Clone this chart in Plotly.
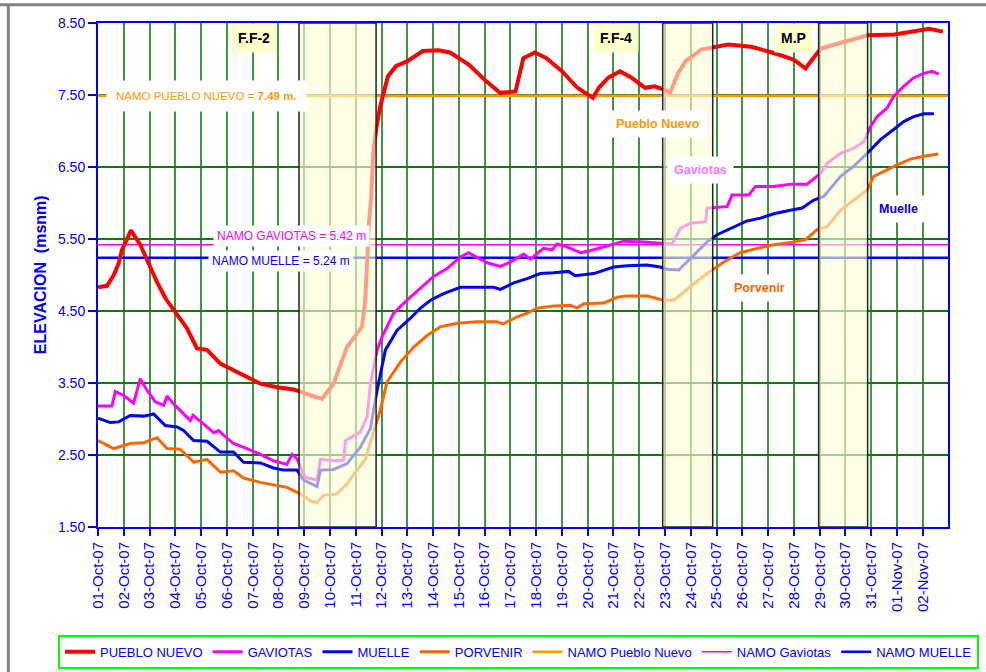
import pandas as pd
import plotly.graph_objects as go

BASE = pd.Timestamp("2007-10-01")

# ---- data (x = days elapsed since 01-Oct-07) ----
pn_d = [0, 0.35, 0.61, 0.80, 0.93, 1.28, 1.64, 1.96, 2.29, 2.61, 3.07, 3.45, 3.84, 4.23, 4.75,
        5.26, 5.78, 6.30, 6.95, 7.59, 8.24, 8.69, 9.14, 9.66, 10.24, 10.37, 10.44, 10.50, 10.59,
        10.69, 10.83, 10.95, 11.25, 11.56, 12.0, 12.6, 13.2, 13.66, 14.4, 15.0, 15.6, 16.2, 16.5,
        16.95, 17.4, 18.0, 18.6, 19.2, 19.43, 19.8, 20.26, 20.7, 21.23, 21.6, 21.98, 22.2, 22.5,
        22.8, 23.4, 24.0, 24.45, 25.35, 26.25, 27.0, 27.45, 27.9, 28.06, 28.96, 29.86, 30.9, 31.5,
        32.25, 32.78]
pn_v = [4.83, 4.85, 5.0, 5.16, 5.35, 5.62, 5.42, 5.16, 4.90, 4.68, 4.45, 4.26, 3.98, 3.96, 3.77,
        3.68, 3.58, 3.49, 3.44, 3.41, 3.33, 3.28, 3.49, 4.0, 4.28, 4.65, 5.16, 5.67, 6.04,
        6.74, 7.11, 7.34, 7.76, 7.90, 7.97, 8.11, 8.12, 8.09, 7.92, 7.71, 7.53, 7.55, 8.01,
        8.09, 8.01, 7.83, 7.60, 7.46, 7.60, 7.74, 7.83, 7.74, 7.60, 7.62, 7.57, 7.53, 7.80,
        7.97, 8.13, 8.17, 8.20, 8.17, 8.08, 7.99, 7.87, 8.08, 8.15, 8.24, 8.33, 8.34, 8.38,
        8.42, 8.38]

gav_d = [0, 0.54, 0.67, 0.99, 1.38, 1.64, 1.90, 2.22, 2.55, 2.68, 2.93, 3.26, 3.58, 3.69, 3.97,
         4.23, 4.49, 4.68, 5.01, 5.26, 5.78, 6.30, 6.81, 7.33, 7.53, 7.72, 8.04, 8.50, 8.63, 9.14,
         9.53, 9.60, 10.18, 10.44, 10.57, 10.83, 11.02, 11.21, 11.47, 11.99, 12.51, 13.02, 13.54,
         14.06, 14.38, 14.71, 15.10, 15.61, 16.0, 16.52, 16.78, 17.04, 17.29, 17.62, 17.81, 18.2,
         18.72, 19.23, 19.88, 20.4, 21.17, 21.95, 22.27, 22.6, 22.99, 23.57, 23.63, 24.41, 24.6,
         25.25, 25.51, 26.22, 26.86, 27.51, 28.03, 28.29, 28.81, 29.32, 29.71, 29.97, 30.23,
         30.62, 30.87, 31.26, 31.65, 32.04, 32.36, 32.62]
gav_v = [3.18, 3.18, 3.38, 3.33, 3.22, 3.56, 3.40, 3.24, 3.19, 3.32, 3.21, 3.10, 2.98, 3.05, 2.96,
         2.89, 2.81, 2.84, 2.73, 2.66, 2.59, 2.51, 2.42, 2.37, 2.51, 2.45, 2.19, 2.15, 2.44, 2.42,
         2.43, 2.70, 2.82, 3.03, 3.49, 3.96, 4.14, 4.28, 4.47, 4.65, 4.81, 4.98, 5.09,
         5.25, 5.31, 5.25, 5.17, 5.12, 5.18, 5.29, 5.22, 5.30, 5.37, 5.35, 5.43, 5.39,
         5.31, 5.35, 5.42, 5.47, 5.46, 5.44, 5.43, 5.65, 5.72, 5.74, 5.93, 5.95, 6.11,
         6.11, 6.23, 6.23, 6.26, 6.26, 6.41, 6.55, 6.69, 6.76, 6.85, 7.06, 7.20,
         7.32, 7.48, 7.62, 7.74, 7.80, 7.83, 7.79]

mue_d = [0, 0.48, 0.80, 1.25, 1.77, 2.16, 2.61, 3.07, 3.32, 3.71, 4.23, 4.75, 5.26, 5.65, 6.30,
         6.81, 7.20, 7.72, 7.98, 8.50, 8.63, 9.14, 9.66, 10.18, 10.57, 10.83, 11.15, 11.6, 12.12,
         12.51, 12.9, 13.41, 14.06, 14.71, 15.35, 15.61, 16.13, 16.65, 17.16, 17.68, 18.26, 18.51,
         19.23, 20.01, 20.53, 21.3, 21.82, 22.08, 22.53, 22.99, 23.63, 24.02, 24.54, 25.18, 25.7,
         26.22, 26.86, 27.32, 27.77, 28.16, 28.81, 29.32, 29.84, 30.36, 30.87, 31.26, 31.65,
         32.04, 32.43]
mue_v = [3.01, 2.95, 2.96, 3.05, 3.04, 3.07, 2.91, 2.89, 2.84, 2.70, 2.69, 2.54, 2.54, 2.40, 2.39,
         2.32, 2.29, 2.29, 2.15, 2.06, 2.29, 2.30, 2.38, 2.61, 2.87, 3.40, 3.96, 4.23, 4.40,
         4.54, 4.65, 4.74, 4.83, 4.83, 4.83, 4.80, 4.89, 4.95, 5.02, 5.03, 5.05, 4.99,
         5.02, 5.11, 5.13, 5.14, 5.11, 5.08, 5.07, 5.23, 5.46, 5.56, 5.65, 5.75, 5.79,
         5.85, 5.90, 5.93, 6.04, 6.09, 6.37, 6.51, 6.69, 6.88, 7.02, 7.13, 7.20,
         7.24, 7.24]

por_d = [0, 0.61, 1.25, 1.77, 2.29, 2.68, 3.19, 3.71, 4.23, 4.75, 5.26, 5.65, 6.30, 6.95, 7.33,
         7.85, 8.24, 8.50, 8.75, 9.27, 9.66, 10.05, 10.37, 10.63, 10.95, 11.21, 11.73, 12.25,
         12.77, 13.28, 13.93, 14.71, 15.48, 15.72, 16.26, 16.65, 17.04, 17.68, 18.33, 18.59,
         18.84, 19.62, 20.14, 20.53, 21.3, 21.82, 22.34, 22.99, 23.63, 24.28, 24.92, 25.57,
         26.22, 26.86, 27.45, 27.9, 28.29, 28.81, 29.32, 29.84, 30.1, 30.48, 31.0, 31.52,
         32.04, 32.6]
por_v = [2.70, 2.59, 2.66, 2.67, 2.74, 2.59, 2.58, 2.40, 2.44, 2.26, 2.28, 2.18, 2.12, 2.08, 2.05,
         1.96, 1.86, 1.84, 1.94, 1.96, 2.10, 2.29, 2.44, 2.75, 3.12, 3.51, 3.79, 4.00,
         4.16, 4.28, 4.33, 4.35, 4.35, 4.32, 4.42, 4.47, 4.54, 4.57, 4.58, 4.54,
         4.60, 4.61, 4.69, 4.71, 4.71, 4.66, 4.65, 4.84, 5.02, 5.18, 5.31, 5.37,
         5.42, 5.45, 5.49, 5.63, 5.67, 5.90, 6.04, 6.18, 6.37, 6.44, 6.53, 6.61,
         6.65, 6.68]

namo_names = ["NAMO Pueblo Nuevo", "NAMO Gaviotas", "NAMO MUELLE"]
namo_vals = [7.49, 5.42, 5.24]
namo_span = ["2007-10-01", "2007-11-03"]

# event periods (days since 01-Oct-07) and their labels
band_start = [7.80, 21.91, 27.96]
band_end = [10.79, 23.85, 29.86]
band_labels = ["F.F-2", "F.F-4", "M.P"]
band_label_day = [6.07, 20.09, 26.98]


def to_dates(days):
    return [BASE + pd.Timedelta(days=d) for d in days]


FONT = "Arial, Liberation Sans, sans-serif"
BLUE = "#0000FF"

fig = go.Figure()

namo_colors = ["#FF9900", "#FF00FF", "#0000FF"]
namo_widths = [2.5, 1.5, 2.5]
for i, (nm, v) in enumerate(zip(namo_names, namo_vals)):
    fig.add_trace(go.Scatter(x=namo_span, y=[v, v], mode="lines", name=nm,
                             line=dict(color=namo_colors[i], width=namo_widths[i]),
                             legendrank=5 + i, hoverinfo="skip"))

series = [("PUEBLO NUEVO", pn_d, pn_v, "#FF0000", 4),
          ("GAVIOTAS", gav_d, gav_v, "#FF00FF", 3),
          ("MUELLE", mue_d, mue_v, "#0000FF", 3),
          ("PORVENIR", por_d, por_v, "#FF6600", 3)]
for i, (nm, d, v, c, w) in enumerate(series):
    fig.add_trace(go.Scatter(x=to_dates(d), y=v, mode="lines", name=nm,
                             line=dict(color=c, width=w), legendrank=1 + i))

shapes = []
for k, (s, e) in enumerate(zip(band_start, band_end)):
    shapes.append(dict(type="rect", xref="x", yref="y",
                       x0=to_dates([s])[0], x1=to_dates([e])[0], y0=1.5, y1=8.5,
                       fillcolor="rgba(255,255,215,0.62)",
                       line=dict(color="#222222", width=1.5), layer="above"))
# outer frame (gray)
shapes.append(dict(type="line", xref="paper", yref="paper", x0=-0.12, x1=1.05,
                   y0=1.0364, y1=1.0364, line=dict(color="#808080", width=3)))
shapes.append(dict(type="line", xref="paper", yref="paper", x0=-0.1055, x1=-0.1055,
                   y0=-0.3, y1=1.0364, line=dict(color="#808080", width=3)))

ann = []
for lab_txt, d in zip(band_labels, band_label_day):
    ann.append(dict(x=to_dates([d])[0], y=1.0, xref="x", yref="paper", yanchor="top",
                    text="<b>%s</b>" % lab_txt, showarrow=False, bgcolor="#FFFFCC",
                    borderpad=6, font=dict(family=FONT, size=14, color="#000000")))


def lab(day, y, text, color, size=13, pad=4):
    ann.append(dict(x=to_dates([day])[0], y=y, xref="x", yref="y", text=text,
                    showarrow=False, bgcolor="#FFFFFF", borderpad=pad,
                    font=dict(family=FONT, size=size, color=color)))


lab(4.21, 7.49, "NAMO PUEBLO NUEVO = <b>7.49 m.</b>", "#FF9900", 11.5, 9)
lab(7.52, 5.54, "NAMO GAVIOTAS = 5.42 m", "#FF00FF", 12, 3)
lab(7.11, 5.19, "NAMO MUELLE = 5.24 m", "#0000FF", 12, 3)
lab(21.71, 7.10, "<b>Pueblo Nuevo</b>", "#FF9900", 12.5, 6)
lab(23.38, 6.46, "<b>Gaviotas</b>", "#FF77FF", 12.5, 6)
lab(31.05, 5.92, "<b>Muelle</b>", "#0000FF", 12.5, 6)
lab(25.66, 4.82, "<b>Porvenir</b>", "#FF6600", 12.5, 6)

ann.append(dict(x=-0.068, y=0.5, xref="paper", yref="paper", textangle=-90,
                xanchor="center", yanchor="middle",
                text="<b>ELEVACION  (msnm)</b>", showarrow=False,
                font=dict(family=FONT, size=16, color=BLUE)))

fig.update_layout(
    width=986, height=672,
    margin=dict(l=98, r=38, t=23, b=145, autoexpand=False),
    paper_bgcolor="white", plot_bgcolor="white",
    showlegend=True,
    legend=dict(orientation="h", x=-0.047, y=-0.214, xanchor="left", yanchor="top",
                bordercolor="#00FF00", borderwidth=2, bgcolor="white",
                font=dict(family=FONT, size=13, color=BLUE), traceorder="normal"),
    shapes=shapes, annotations=ann,
    xaxis=dict(range=["2007-10-01", "2007-11-02 23:30"], tickmode="linear",
               tick0="2007-10-01", dtick=86400000, tickformat="%d-%b-%y", tickangle=-90,
               showgrid=True, gridcolor="#3A993A", gridwidth=2,
               showline=True, linecolor=BLUE, linewidth=2, mirror=True,
               ticks="outside", ticklen=7, tickcolor=BLUE, tickwidth=2,
               tickfont=dict(family=FONT, size=15, color=BLUE), zeroline=False),
    yaxis=dict(range=[1.5, 8.5], tickmode="linear", tick0=1.5, dtick=1, tickformat=".2f",
               showgrid=True, gridcolor="#008000", gridwidth=2,
               showline=True, linecolor=BLUE, linewidth=2, mirror=True,
               ticks="outside", ticklen=8, tickcolor=BLUE, tickwidth=2,
               tickfont=dict(family=FONT, size=14, color=BLUE), zeroline=False),
)

fig.write_html("out.html", config={"displayModeBar": False},
               post_script="document.body.style.margin='0';document.body.style.overflow='hidden';")
